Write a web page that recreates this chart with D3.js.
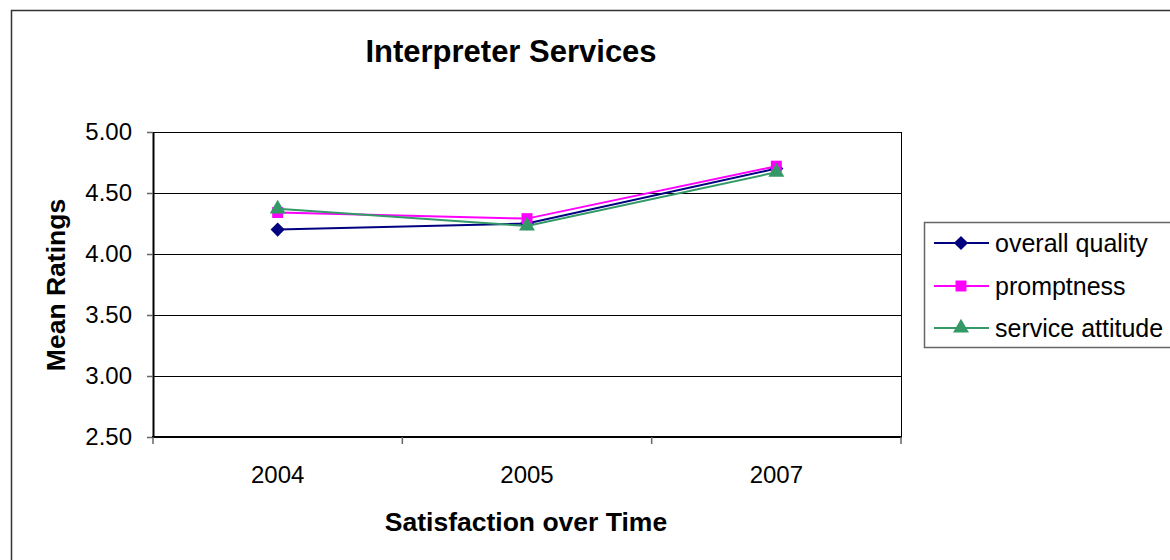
<!DOCTYPE html>
<html>
<head>
<meta charset="utf-8">
<script src="https://cdn.jsdelivr.net/npm/d3@7"></script>
<style>
  html, body { margin: 0; padding: 0; background: #fff; }
  svg { display: block; font-family: "Liberation Sans", Arial, sans-serif; }
</style>
</head>
<body>
<svg id="chart" width="1170" height="560"></svg>
<script>
// Survey years and mean ratings per service aspect
const years = ["2004", "2005", "2007"];
const overallQuality = [4.20, 4.25, 4.70];
const promptness = [4.34, 4.29, 4.72];
const serviceAttitude = [4.37, 4.23, 4.67];
const yTicks = [2.5, 3.0, 3.5, 4.0, 4.5, 5.0];

// diamond drawn as a square turned 45 degrees
const symbolRhomb = {
  draw(context, size) {
    const r = Math.sqrt(size / 2);
    context.moveTo(0, -r);
    context.lineTo(r, 0);
    context.lineTo(0, r);
    context.lineTo(-r, 0);
    context.closePath();
  }
};

const series = [
  { name: "overall quality", values: overallQuality, color: "#000080", symbol: symbolRhomb, size: 100 },
  { name: "promptness", values: promptness, color: "#FF00FF", symbol: d3.symbolSquare, size: 120 },
  { name: "service attitude", values: serviceAttitude, color: "#339966", symbol: d3.symbolTriangle, size: 110 }
];

const svg = d3.select("#chart");
const plot = { left: 153, top: 132, right: 901, bottom: 437 };

// outer chart frame
svg.append("rect")
  .attr("x", 11.5).attr("y", 10.5)
  .attr("width", 1200).attr("height", 600)
  .attr("fill", "#fff").attr("stroke", "#333").attr("stroke-width", 1.5);

const x = d3.scaleBand().domain(years).range([plot.left, plot.right]);
const y = d3.scaleLinear().domain([2.5, 5.0]).range([plot.bottom, plot.top]);

// horizontal gridlines
svg.append("g")
  .selectAll("line")
  .data(yTicks.filter(t => t > 2.5))
  .join("line")
  .attr("x1", plot.left).attr("x2", plot.right)
  .attr("y1", d => Math.round(y(d)) + 0.5).attr("y2", d => Math.round(y(d)) + 0.5)
  .attr("stroke", "#000").attr("stroke-width", 1);

// right edge of plot area
svg.append("line")
  .attr("x1", plot.right + 0.5).attr("x2", plot.right + 0.5)
  .attr("y1", plot.top).attr("y2", plot.bottom)
  .attr("stroke", "#000").attr("stroke-width", 1);

// y axis
const yAxis = svg.append("g")
  .attr("transform", `translate(${plot.left},0)`)
  .call(d3.axisLeft(y).tickValues(yTicks).tickFormat(d3.format(".2f")).tickSize(6).tickSizeOuter(0));
yAxis.select(".domain").attr("stroke", "#000").attr("stroke-width", 2);
yAxis.selectAll(".tick line").attr("stroke", "#666").attr("stroke-width", 1.5);
yAxis.selectAll(".tick text")
  .attr("font-size", 24).attr("fill", "#000")
  .attr("font-family", "Liberation Sans, Arial, sans-serif")
  .attr("x", -21);

// x axis: labels centred in bands, ticks at band boundaries
const xAxisG = svg.append("g").attr("transform", `translate(0,${plot.bottom})`);
xAxisG.append("line")
  .attr("x1", plot.left - 1).attr("x2", plot.right + 1)
  .attr("stroke", "#000").attr("stroke-width", 2);
const boundaries = years.map(d => x(d)).concat([x(years[years.length - 1]) + x.bandwidth()]);
xAxisG.selectAll("line.tick")
  .data(boundaries)
  .join("line")
  .attr("class", "tick")
  .attr("x1", d => d).attr("x2", d => d)
  .attr("y1", 0).attr("y2", 7)
  .attr("stroke", "#666").attr("stroke-width", 1.5);
xAxisG.selectAll("text")
  .data(years)
  .join("text")
  .attr("x", d => x(d) + x.bandwidth() / 2)
  .attr("y", 46)
  .attr("text-anchor", "middle")
  .attr("font-size", 24)
  .text(d => d);

// series lines and markers
const cx = d => x(d) + x.bandwidth() / 2;
series.forEach(s => {
  const pts = years.map((yr, i) => [cx(yr), y(s.values[i])]);
  svg.append("path")
    .attr("d", d3.line()(pts))
    .attr("fill", "none")
    .attr("stroke", s.color)
    .attr("stroke-width", 2);
  svg.append("g")
    .selectAll("path")
    .data(pts)
    .join("path")
    .attr("transform", d => `translate(${d[0]},${d[1]})`)
    .attr("d", d3.symbol().type(s.symbol).size(s.size))
    .attr("fill", s.color);
});

// titles
svg.append("text")
  .attr("x", 511).attr("y", 62)
  .attr("text-anchor", "middle")
  .attr("font-size", 31).attr("font-weight", "bold")
  .text("Interpreter Services");

svg.append("text")
  .attr("x", 526).attr("y", 531)
  .attr("text-anchor", "middle")
  .attr("font-size", 26.5).attr("font-weight", "bold")
  .text("Satisfaction over Time");

svg.append("text")
  .attr("transform", "translate(65,285) rotate(-90)")
  .attr("text-anchor", "middle")
  .attr("font-size", 26.5).attr("font-weight", "bold")
  .text("Mean Ratings");

// legend
const legend = svg.append("g");
legend.append("rect")
  .attr("x", 924.5).attr("y", 222.5)
  .attr("width", 260).attr("height", 125)
  .attr("fill", "#fff").attr("stroke", "#666").attr("stroke-width", 1.5);
const rowY = [243, 286, 328];
series.forEach((s, i) => {
  const g = legend.append("g").attr("transform", `translate(0,${rowY[i]})`);
  g.append("line")
    .attr("x1", 934).attr("x2", 989)
    .attr("stroke", s.color).attr("stroke-width", 2);
  g.append("path")
    .attr("transform", "translate(961,0)")
    .attr("d", d3.symbol().type(s.symbol).size(s.size))
    .attr("fill", s.color);
  g.append("text")
    .attr("x", 995).attr("y", 9)
    .attr("font-size", 25)
    .text(s.name);
});
</script>
</body>
</html>
